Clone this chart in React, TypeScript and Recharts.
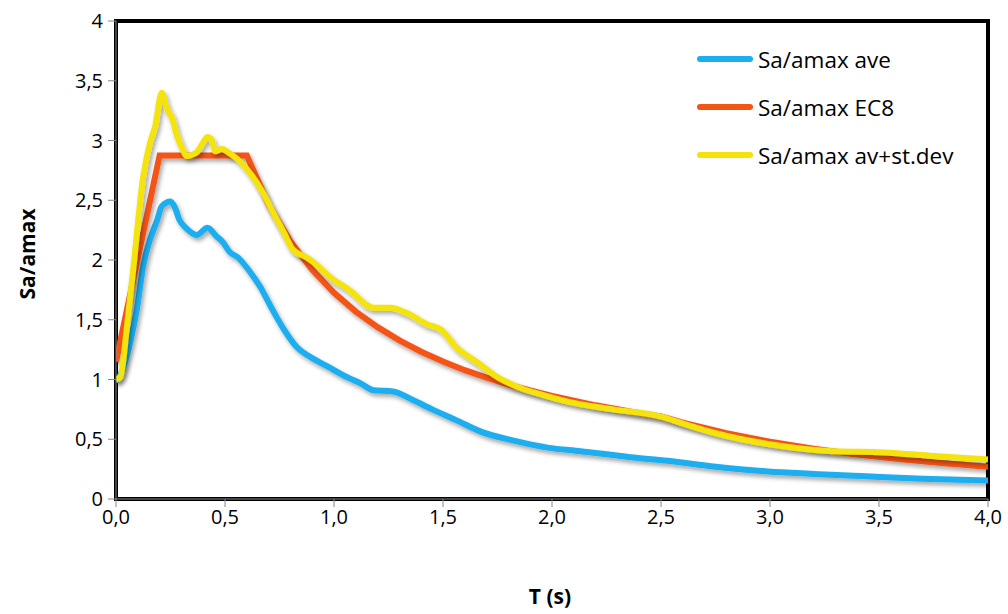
import React from "react";
import { LineChart, Line, XAxis, YAxis, ReferenceArea, Legend, Label } from "recharts";

const aveT = [0, 0.03, 0.065, 0.095, 0.125, 0.156, 0.19, 0.21, 0.25, 0.27, 0.29, 0.325, 0.37, 0.42, 0.46, 0.49, 0.52, 0.56, 0.615, 0.66, 0.71, 0.77, 0.83, 0.89, 0.97, 1.06, 1.12, 1.18, 1.27, 1.36, 1.45, 1.56, 1.68, 1.82, 1.98, 2.13, 2.36, 2.53, 2.75, 2.99, 3.2, 3.44, 3.7, 4.0];
const aveV = [0.98, 1.08, 1.31, 1.58, 1.95, 2.17, 2.34, 2.45, 2.49, 2.44, 2.34, 2.26, 2.21, 2.27, 2.2, 2.15, 2.07, 2.02, 1.9, 1.78, 1.61, 1.42, 1.27, 1.19, 1.11, 1.02, 0.97, 0.91, 0.9, 0.83, 0.75, 0.66, 0.56, 0.49, 0.43, 0.4, 0.35, 0.32, 0.27, 0.23, 0.21, 0.19, 0.17, 0.155];

const ec8T = [0, 0.2, 0.6, 0.7, 0.8, 0.9, 1.0, 1.1, 1.2, 1.3, 1.4, 1.5, 1.6, 1.7, 1.8, 1.9, 2.0, 2.2, 2.4, 2.5, 2.6, 2.8, 3.0, 3.2, 3.4, 3.6, 3.8, 4.0];
const ec8V = [1.15, 2.875, 2.875, 2.464, 2.156, 1.917, 1.725, 1.568, 1.438, 1.327, 1.232, 1.15, 1.078, 1.015, 0.958, 0.908, 0.863, 0.784, 0.719, 0.69, 0.638, 0.55, 0.479, 0.421, 0.373, 0.333, 0.299, 0.27];

const sdT = [0, 0.02, 0.05, 0.08, 0.125, 0.156, 0.18, 0.21, 0.225, 0.24, 0.255, 0.28, 0.3, 0.325, 0.37, 0.395, 0.42, 0.44, 0.455, 0.485, 0.515, 0.56, 0.6, 0.645, 0.675, 0.72, 0.77, 0.81, 0.875, 0.92, 0.98, 1.07, 1.18, 1.26, 1.33, 1.43, 1.49, 1.56, 1.66, 1.75, 1.84, 1.96, 2.11, 2.28, 2.5, 2.62, 2.75, 2.99, 3.29, 3.52, 3.75, 4.0];
const sdV = [1.0, 1.02, 1.44, 1.94, 2.7, 2.98, 3.12, 3.4, 3.32, 3.24, 3.2, 3.04, 2.95, 2.87, 2.9, 2.97, 3.03, 3.0, 2.91, 2.93, 2.9, 2.84, 2.76, 2.65, 2.56, 2.4, 2.23, 2.09, 2.02, 1.96, 1.86, 1.75, 1.6, 1.6, 1.56, 1.46, 1.42, 1.27, 1.14, 1.02, 0.94, 0.87, 0.8, 0.75, 0.69, 0.62, 0.55, 0.46, 0.4, 0.39, 0.36, 0.33];

const xTicks = [0, 0.5, 1, 1.5, 2, 2.5, 3, 3.5, 4];
const yTicks = [0, 0.5, 1, 1.5, 2, 2.5, 3, 3.5, 4];

const seriesNames = ["Sa/amax ave", "Sa/amax EC8", "Sa/amax av+st.dev"];
const seriesColors = ["#1CAEEE", "#F45416", "#F4E309"];

const aveData = aveT.map((t, i) => ({ t, v: aveV[i] }));
const ec8Data = ec8T.map((t, i) => ({ t, v: ec8V[i] }));
const sdData = sdT.map((t, i) => ({ t, v: sdV[i] }));

const FONT = "'Open Sans', sans-serif";

const renderLegend = () => (
  <div style={{ fontFamily: FONT }}>
    {seriesNames.map((n, i) => (
      <div key={n} style={{ display: "flex", alignItems: "center", height: 48 }}>
        <div style={{ width: 56, height: 6, borderRadius: 3, background: seriesColors[i], marginRight: 5 }} />
        <span style={{ fontSize: 22.5, color: "#000" }}>{n}</span>
      </div>
    ))}
  </div>
);

export default function App() {
  return (
    <div style={{ position: "absolute", left: 0, top: 0, width: 1008, height: 614, background: "#fff" }}>
      <LineChart width={1008} height={614} margin={{ top: 21, right: 20, bottom: 0, left: 0 }}>
        <defs>
          <filter id="shadow" x="-10%" y="-10%" width="130%" height="130%">
            <feDropShadow dx="2" dy="3" stdDeviation="2" floodColor="#000" floodOpacity="0.35" />
          </filter>
        </defs>
        <XAxis
          type="number"
          dataKey="t"
          domain={[0, 4]}
          ticks={xTicks}
          allowDataOverflow
          height={115}
          tickSize={8}
          tickMargin={3}
          stroke="#888"
          tick={{ fill: "#000", fontSize: 20, fontFamily: FONT }}
          tickFormatter={(v: number) => v.toFixed(1).replace(".", ",")}
        >
          <Label
            content={() => (
              <text x={550} y={604} textAnchor="middle" fontFamily={FONT} fontWeight="bold" fontSize={21} fill="#000">
                T (s)
              </text>
            )}
          />
        </XAxis>
        <YAxis
          type="number"
          domain={[0, 4]}
          ticks={yTicks}
          allowDataOverflow
          width={116}
          tickSize={8}
          tickMargin={5}
          stroke="#888"
          tick={{ fill: "#000", fontSize: 20, fontFamily: FONT }}
          tickFormatter={(v: number) => String(v).replace(".", ",")}
        >
          <Label
            content={() => (
              <text
                x={27}
                y={254}
                transform="rotate(-90 27 254)"
                textAnchor="middle"
                dominantBaseline="central"
                fontFamily={FONT}
                fontWeight="bold"
                fontSize={21}
                fill="#000"
              >
                Sa/amax
              </text>
            )}
          />
        </YAxis>
        <ReferenceArea x1={0} x2={4} y1={0} y2={4} fill="none" stroke="#000" strokeWidth={4} ifOverflow="visible" />
        <Line data={aveData} dataKey="v" name={seriesNames[0]} type="monotone" stroke={seriesColors[0]} strokeWidth={6} dot={false} isAnimationActive={false} filter="url(#shadow)" />
        <Line data={ec8Data} dataKey="v" name={seriesNames[1]} type="linear" stroke={seriesColors[1]} strokeWidth={6} dot={false} isAnimationActive={false} filter="url(#shadow)" />
        <Line data={sdData} dataKey="v" name={seriesNames[2]} type="monotone" stroke={seriesColors[2]} strokeWidth={6} dot={false} isAnimationActive={false} filter="url(#shadow)" />
        <Legend
          layout="vertical"
          align="center"
          verticalAlign="middle"
          content={renderLegend}
          wrapperStyle={{ position: "absolute", left: 697, top: 35, width: 300 }}
        />
      </LineChart>
    </div>
  );
}
